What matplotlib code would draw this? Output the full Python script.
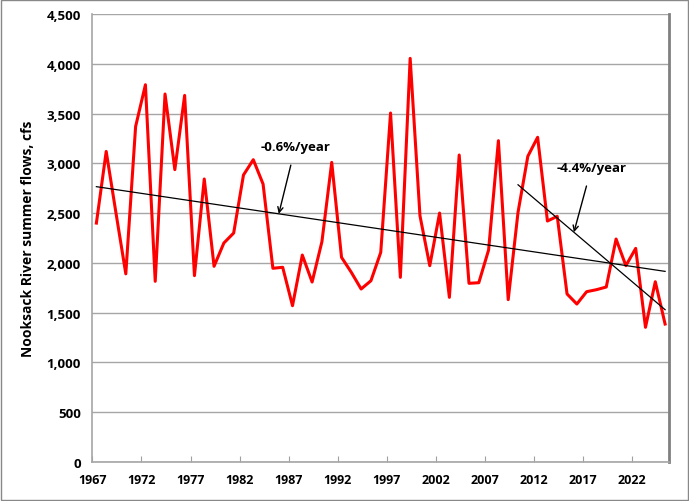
import numpy as np
import matplotlib
matplotlib.use("Agg")
import matplotlib.pyplot as plt
from matplotlib.patches import Rectangle

plt.rcParams['font.family'] = ['Open Sans', 'DejaVu Sans']

# summer flows (cfs)
years = list(range(1967, 2026))
flows = [2400, 3120, 2500, 1890, 3370, 3790, 1815, 3697, 2937, 3683,
         1872, 2843, 1966, 2200, 2300, 2883, 3037, 2792, 1946, 1956,
         1570, 2079, 1808, 2213, 3010, 2056, 1905, 1738, 1821, 2106,
         3506, 1855, 4055, 2474, 1972, 2501, 1654, 3084, 1795, 1801,
         2130, 3228, 1631, 2508, 3071, 3262, 2421, 2468, 1688, 1587,
         1711, 1731, 1758, 2240, 1972, 2146, 1353, 1811, 1386]
tick_years = list(range(1967, 2023, 5))
y_ticks = list(range(0, 4501, 500))

# trend line end points as drawn in the chart
trend_all_years = [1967, 2025]
trend_all_vals = [2766, 1915]
trend_recent_years = [2010, 2025]
trend_recent_vals = [2785, 1530]

fig = plt.figure(figsize=(6.89, 5.02), dpi=100)
ax = fig.add_axes([0.1335, 0.0777, 0.8375, 0.8923])

ax.plot(years, flows, color='#FF0000', lw=2.2, zorder=3)
ax.plot(trend_all_years, trend_all_vals, color='black', lw=0.9, zorder=4)
ax.plot(trend_recent_years, trend_recent_vals, color='black', lw=0.9, zorder=4)

ax.annotate('-0.6%/year', xy=(1985.6, np.interp(1985.6, trend_all_years, trend_all_vals)),
            xytext=(1987.3, 3170), ha='center', va='center', fontsize=9.5, fontweight='bold',
            arrowprops=dict(arrowstyle='->', color='black', lw=1.0, shrinkA=7, shrinkB=0))
ax.annotate('-4.4%/year', xy=(2015.7, np.interp(2015.7, trend_recent_years, trend_recent_vals)),
            xytext=(2017.5, 2960), ha='center', va='center', fontsize=9.5, fontweight='bold',
            arrowprops=dict(arrowstyle='->', color='black', lw=1.0, shrinkA=7, shrinkB=0))

ax.set_xlim(1966.55, 2025.4)
ax.set_ylim(0, 4500)
ax.set_xticks([t - 0.4 for t in tick_years])
ax.set_xticklabels([str(t) for t in tick_years], fontsize=9, fontweight='bold')
ax.set_yticks(y_ticks)
ax.set_yticklabels([f'{v:,}' for v in y_ticks], fontsize=9.5, fontweight='bold')
ax.tick_params(axis='x', direction='in', length=4, color='#A0A0A0', pad=8)
ax.tick_params(axis='y', length=0, pad=8)

ax.grid(axis='y', color='#A6A6A6', lw=1.0, zorder=0)
ax.set_axisbelow(True)
for side in ['left', 'bottom']:
    ax.spines[side].set_color('#A6A6A6')
    ax.spines[side].set_linewidth(1.2)
ax.spines['top'].set_visible(False)
ax.spines['right'].set_color('#808080')
ax.spines['right'].set_linewidth(2.0)

ax.set_ylabel('Nooksack River summer flows, cfs', fontsize=10, fontweight='bold', labelpad=8)

fig.patches.append(Rectangle((0.002, 0.002), 0.996, 0.996, transform=fig.transFigure,
                             fill=False, edgecolor='#888888', lw=1.0))

fig.savefig('out.png', dpi=100)
